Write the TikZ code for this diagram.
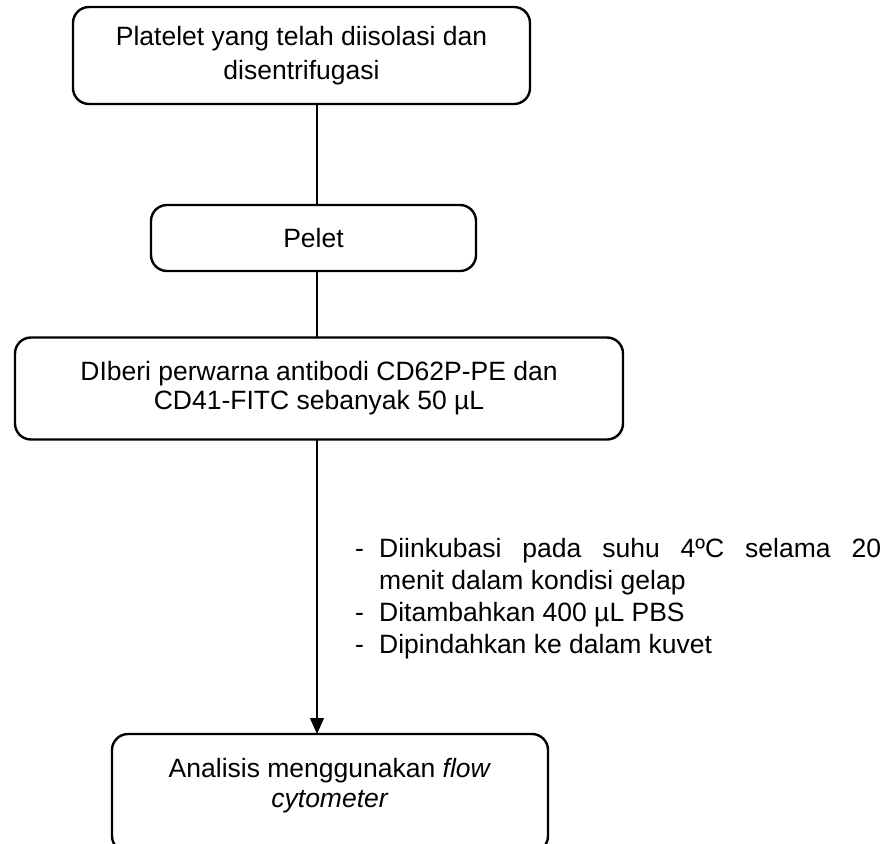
\documentclass[tikz,border=0pt]{standalone}
\usepackage{fontspec}
\setmainfont{Liberation Sans}
\usetikzlibrary{arrows.meta}
\begin{document}
\begin{tikzpicture}[x=1pt,y=-1pt,
  stepbox/.style={draw, line width=2.4pt, rounded corners=16pt, align=center, inner sep=0pt,
    font=\fontsize{26.5}{29}\selectfont},
  conn/.style={line width=1.1pt}]
\useasboundingbox (0,0) rectangle (880,843);
\clip (0,0) rectangle (880,843);
\node[stepbox, minimum width=457, minimum height=97, font=\fontsize{26.5}{34}\selectfont] (b1) at (301.5,55.5)
  {Platelet yang telah diisolasi dan\\disentrifugasi};
\node[stepbox, minimum width=325, minimum height=66] (b2) at (313.5,238) {Pelet};
\node[stepbox, minimum width=608, minimum height=102] (b3) at (319,388.5)
  {DIberi perwarna antibodi CD62P-PE dan\\CD41-FITC sebanyak 50 µL};
\node[stepbox, minimum width=436, minimum height=118] (b4) at (330,793) {};
\node[align=center, inner sep=0pt, font=\fontsize{26.5}{30}\selectfont] (t4) at (330,786)
  {Analisis menggunakan \textit{flow}\\\textit{cytometer}};
\coordinate (c1) at (317,104);
\coordinate (c2) at (317,205);
\coordinate (c3) at (317,271);
\coordinate (c4) at (317,337);
\coordinate (c5) at (317,440);
\coordinate (c6) at (317,734);
\draw[conn] (c1) -- (c2);
\draw[conn] (c3) -- (c4);
\draw[conn, -{Triangle[length=16pt,width=14pt]}] (c5) -- (c6);
\node[anchor=north west, align=left, inner sep=0pt, font=\fontsize{26.5}{32}\selectfont] (notes) at (355,538)
  {\makebox[24pt][l]{-}\makebox[502pt][s]{Diinkubasi pada suhu 4ºC selama 20}\\
   \hspace*{24pt}menit dalam kondisi gelap\\
   \makebox[24pt][l]{-}Ditambahkan 400 µL PBS\\
   \makebox[24pt][l]{-}Dipindahkan ke dalam kuvet};
\end{tikzpicture}
\end{document}
